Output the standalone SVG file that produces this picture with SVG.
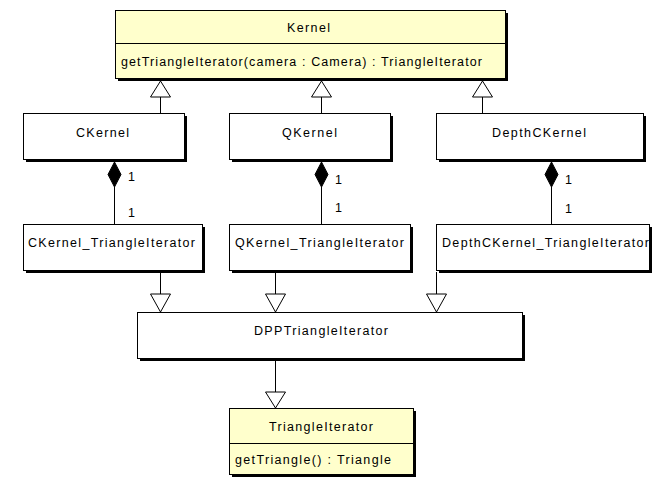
<svg xmlns="http://www.w3.org/2000/svg" width="652" height="477" viewBox="0 0 652 477">
<style>
.box{fill:#fff;stroke:#000;stroke-width:1}
.yel{fill:#ffffcc;stroke:#000;stroke-width:1}
.sh{fill:#000}
.t{font-family:"Liberation Sans",Arial,sans-serif;font-size:12.5px;fill:#000}
.ln{stroke:#000;stroke-width:1;fill:none}
.gen{fill:#fff;stroke:#000;stroke-width:1}
.dia{fill:#000;stroke:#000;stroke-width:1}
</style>
<rect width="652" height="477" fill="#fff"/>
<g id="connectors">
  <path class="ln" d="M160.5,97 V113 M321.5,97 V113 M482.5,97 V113"/>
  <path class="gen" d="M160.5,81 L170.5,97 L150.5,97 Z M321.5,81 L331.5,97 L311.5,97 Z M482.5,81 L492.5,97 L472.5,97 Z"/>
  <path class="ln" d="M114.5,187 V224 M321.5,187 V224 M551.5,187 V224"/>
  <path class="dia" d="M114.5,162 L121,174.5 L114.5,187 L108,174.5 Z M321.5,162 L328,174.5 L321.5,187 L315,174.5 Z M551.5,162 L558,174.5 L551.5,187 L545,174.5 Z"/>
  <text class="t" x="128" y="181">1</text>
  <text class="t" x="128" y="217">1</text>
  <text class="t" x="335" y="184">1</text>
  <text class="t" x="335" y="212">1</text>
  <text class="t" x="565" y="184">1</text>
  <text class="t" x="565" y="213">1</text>
  <path class="ln" d="M160.5,272 V294 M275.5,272 V294 M436.5,272 V294"/>
  <path class="gen" d="M150.5,294 L170.5,294 L160.5,312 Z M265.5,294 L285.5,294 L275.5,312 Z M426.5,294 L446.5,294 L436.5,312 Z"/>
  <path class="ln" d="M275.5,361 V392"/>
  <path class="gen" d="M265.5,392 L285.5,392 L275.5,408 Z"/>
</g>
<g id="Kernel">
  <rect class="sh" x="118" y="13" width="390" height="68"/>
  <rect class="yel" x="115.5" y="10.5" width="390" height="68"/>
  <line class="ln" x1="115.5" y1="43.5" x2="505.5" y2="43.5"/>
  <text class="t" x="287" y="31.5" textLength="43" lengthAdjust="spacing">Kernel</text>
  <text class="t" x="121" y="65.5" textLength="361" lengthAdjust="spacing">getTriangleIterator(camera : Camera) : TriangleIterator</text>
</g>
<g id="CKernel">
  <rect class="sh" x="26" y="116" width="161" height="46"/>
  <rect class="box" x="23.5" y="113.5" width="161" height="46"/>
  <text class="t" x="76" y="136.5" textLength="53" lengthAdjust="spacing">CKernel</text>
</g>
<g id="QKernel">
  <rect class="sh" x="232" y="116" width="161" height="46"/>
  <rect class="box" x="229.5" y="113.5" width="161" height="46"/>
  <text class="t" x="282" y="136.5" textLength="55" lengthAdjust="spacing">QKernel</text>
</g>
<g id="DepthCKernel">
  <rect class="sh" x="439" y="116" width="207" height="46"/>
  <rect class="box" x="436.5" y="113.5" width="207" height="46"/>
  <text class="t" x="492" y="136.5" textLength="94" lengthAdjust="spacing">DepthCKernel</text>
</g>
<g id="CKernel_TriangleIterator">
  <rect class="sh" x="26" y="227" width="179" height="46"/>
  <rect class="box" x="23.5" y="224.5" width="179" height="46"/>
  <text class="t" x="28" y="246.5" textLength="167" lengthAdjust="spacing">CKernel_TriangleIterator</text>
</g>
<g id="QKernel_TriangleIterator">
  <rect class="sh" x="232" y="227" width="181" height="46"/>
  <rect class="box" x="229.5" y="224.5" width="181" height="46"/>
  <text class="t" x="235" y="246.5" textLength="169" lengthAdjust="spacing">QKernel_TriangleIterator</text>
</g>
<g id="DepthCKernel_TriangleIterator">
  <rect class="sh" x="439" y="227" width="213" height="46"/>
  <rect class="box" x="436.5" y="224.5" width="213" height="46"/>
  <text class="t" x="442" y="246.5" textLength="207" lengthAdjust="spacing">DepthCKernel_TriangleIterator</text>
</g>
<g id="DPPTriangleIterator">
  <rect class="sh" x="140" y="315" width="385" height="46"/>
  <rect class="box" x="137.5" y="312.5" width="385" height="46"/>
  <text class="t" x="254" y="334.5" textLength="134" lengthAdjust="spacing">DPPTriangleIterator</text>
</g>
<g id="TriangleIterator">
  <rect class="sh" x="232" y="411" width="184" height="66"/>
  <rect class="yel" x="229.5" y="408.5" width="184" height="66"/>
  <line class="ln" x1="229.5" y1="443.5" x2="413.5" y2="443.5"/>
  <text class="t" x="269" y="430.5" textLength="104" lengthAdjust="spacing">TriangleIterator</text>
  <text class="t" x="235" y="463.5" textLength="156" lengthAdjust="spacing">getTriangle() : Triangle</text>
</g>
</svg>
